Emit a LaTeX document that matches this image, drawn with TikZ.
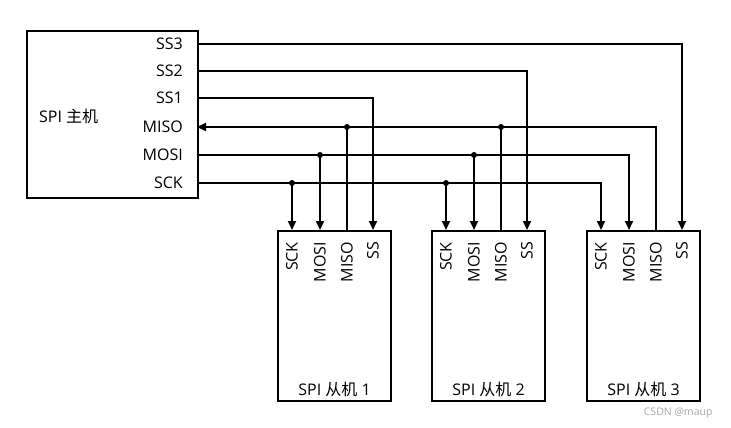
\documentclass[tikz,border=0pt]{standalone}
\usepackage{fontspec}
\setmainfont{Open Sans}
\newfontfamily\cjk{Noto Sans CJK SC}
\usetikzlibrary{arrows.meta}

\tikzset{
  box/.style={draw, line width=2pt, inner sep=0pt},
  wire/.style={line width=2pt},
  sig/.style={wire, -{Stealth[length=9pt, width=8pt, inset=0pt]}},
  pin/.style={font=\fontsize{16}{18}\selectfont, inner sep=0pt},
  dot/.style={circle, fill, inner sep=0pt, minimum size=6pt},
}

\begin{document}
\begin{tikzpicture}[x=1pt, y=-1pt]
  \useasboundingbox (0,0) rectangle (731,428);

  % Master
  \node[box, anchor=north west, minimum width=171pt, minimum height=167pt] (master) at (26,30) {};
  \node[pin, anchor=west] (mname) at (39,116) {SPI {\cjk 主机}};
  \foreach \name/\y/\txt in {ss3/44/SS3, ss2/71/SS2, ss1/98/SS1, miso/127/MISO, mosi/155/MOSI, sck/183/SCK}{
    \coordinate (m-\name) at (197,\y);
    \node[pin, anchor=east] (ml-\name) at (183,\y) {\txt};
  }

  % Slaves
  \foreach \i/\x in {1/277, 2/431, 3/586}{
    \node[box, anchor=north west, minimum width=113pt, minimum height=170pt] (s\i) at (\x,230) {};
    \node[pin, anchor=south] (sn\i) at ([yshift=5pt]s\i.south) {SPI {\cjk 从机} \i};
    \foreach \p/\dx/\txt in {sck/15/SCK, mosi/43/MOSI, miso/70/MISO, ss/96/SS}{
      \coordinate (s\i-\p) at ([xshift=\dx pt]s\i.north west);
      \node[pin, rotate=90, anchor=east] (sl\i-\p) at ([yshift=-12pt]s\i-\p) {\txt};
    }
  }

  % Slave select lines
  \draw[sig] (m-ss1) -| (s1-ss);
  \draw[sig] (m-ss2) -| (s2-ss);
  \draw[sig] (m-ss3) -| (s3-ss);

  % Shared bus: SCK and MOSI go out, MISO comes back
  \draw[sig] (m-sck) -| (s3-sck);
  \draw[sig] (m-mosi) -| (s3-mosi);
  \draw[sig] (s3-miso) |- (m-miso);
  \foreach \i in {1,2}{
    \draw[sig] (s\i-sck |- m-sck) -- (s\i-sck);
    \draw[sig] (s\i-mosi |- m-mosi) -- (s\i-mosi);
    \draw[wire] (s\i-miso) -- (s\i-miso |- m-miso);
    \node[dot] (d\i-sck) at (s\i-sck |- m-sck) {};
    \node[dot] (d\i-mosi) at (s\i-mosi |- m-mosi) {};
    \node[dot] (d\i-miso) at (s\i-miso |- m-miso) {};
  }

  \node[font=\fontsize{10.5}{12}\selectfont, text=gray!70, anchor=east] (mark) at (716,413) {CSDN @maup};
\end{tikzpicture}
\end{document}
